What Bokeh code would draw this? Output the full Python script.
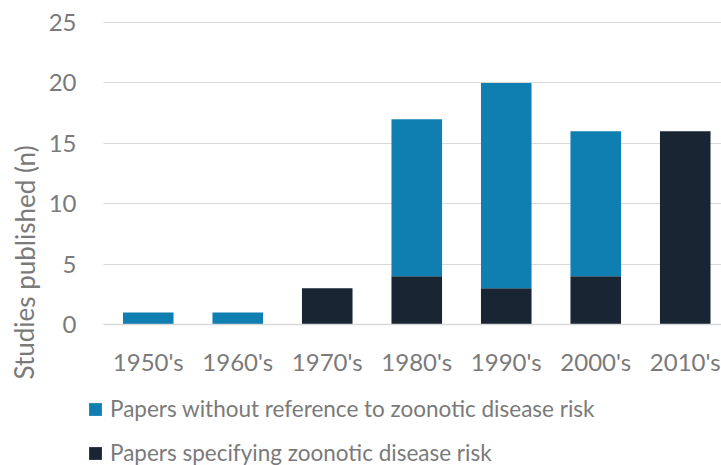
from bokeh.plotting import figure
from bokeh.models import (ColumnDataSource, Range1d, FixedTicker, Legend, LegendItem, Label)
from bokeh.embed import file_html
from bokeh.resources import INLINE

categories = ["1950's", "1960's", "1970's", "1980's", "1990's", "2000's", "2010's"]
specifying = [0, 0, 3, 4, 3, 4, 16]
without_ref = [1, 1, 0, 13, 17, 12, 0]
series_names = ["Papers without reference to zoonotic disease risk",
                "Papers specifying zoonotic disease risk"]
y_ticks = [0, 5, 10, 15, 20, 25]
y_title = "Studies published (n)"

FONT = "Lato"
TXT = "#7A7A7A"
BLUE = "#0F7EB1"
DARK = "#1A2533"
GRID = "#D9D9D9"
FS = "24px"

# pixel layout of the chart area inside a 721x465 canvas
W, H = 721, 465
AX_LEFT, AX_TOP, AX_BOTTOM = 103, 22, 324
CAT_W = 89.5
YMAX = 25
px_per_unit = (AX_BOTTOM - AX_TOP) / YMAX
x0 = -0.5 - AX_LEFT / CAT_W
x1 = -0.5 + (W - AX_LEFT) / CAT_W
y0 = -(H - AX_BOTTOM) / px_per_unit
y1 = YMAX + AX_TOP / px_per_unit

xs = list(range(len(categories)))
source = ColumnDataSource(dict(x=xs, specifying=specifying, without_ref=without_ref))

p = figure(width=W, height=H, output_backend="svg", toolbar_location=None,
           x_range=Range1d(x0, x1), y_range=Range1d(y0, y1),
           min_border=0)
p.outline_line_color = None
p.background_fill_color = "white"
p.border_fill_color = "white"

r = p.vbar_stack(["specifying", "without_ref"], x="x", width=0.565, source=source,
                 color=[DARK, BLUE], line_color=None)

p.xaxis.ticker = FixedTicker(ticks=xs)
p.xaxis.major_label_overrides = {i: c for i, c in enumerate(categories)}
p.yaxis.ticker = FixedTicker(ticks=y_ticks)
for ax in (p.xaxis[0], p.yaxis[0]):
    ax.major_tick_line_color = None
    ax.minor_tick_line_color = None
    ax.major_label_text_font = FONT
    ax.major_label_text_font_size = FS
    ax.major_label_text_color = TXT
p.xaxis.fixed_location = 0
p.xaxis.bounds = (-0.5, x1)
p.xaxis.axis_line_color = GRID
p.xaxis.axis_line_width = 1.5
p.xaxis.major_label_standoff = 16
p.yaxis.fixed_location = -0.5
p.yaxis.bounds = (0, YMAX)
p.yaxis.axis_line_color = None
p.yaxis.major_label_standoff = 21
p.xgrid.grid_line_color = None
p.ygrid.grid_line_color = GRID
p.ygrid.grid_line_width = 1.2
p.ygrid.cross_bounds = (-0.5, x1)

title_lbl = Label(x=x0 + 24 / CAT_W, y=(AX_BOTTOM - 262) / px_per_unit, text=y_title,
                  angle=1.5707963, text_align="center", text_baseline="middle",
                  text_font=FONT, text_font_size="26px", text_color=TXT)
p.add_layout(title_lbl)

legend = Legend(items=[LegendItem(label=series_names[0], renderers=[r[1]]),
                       LegendItem(label=series_names[1], renderers=[r[0]])],
                orientation="vertical", location=(87, -1),
                label_text_font=FONT, label_text_font_size="22.5px", label_text_color=TXT,
                glyph_width=16, glyph_height=16, label_standoff=7, spacing=17,
                padding=0, margin=0, border_line_color=None, background_fill_alpha=0)
p.add_layout(legend)

open("out.html", "w").write(file_html(p, INLINE))
